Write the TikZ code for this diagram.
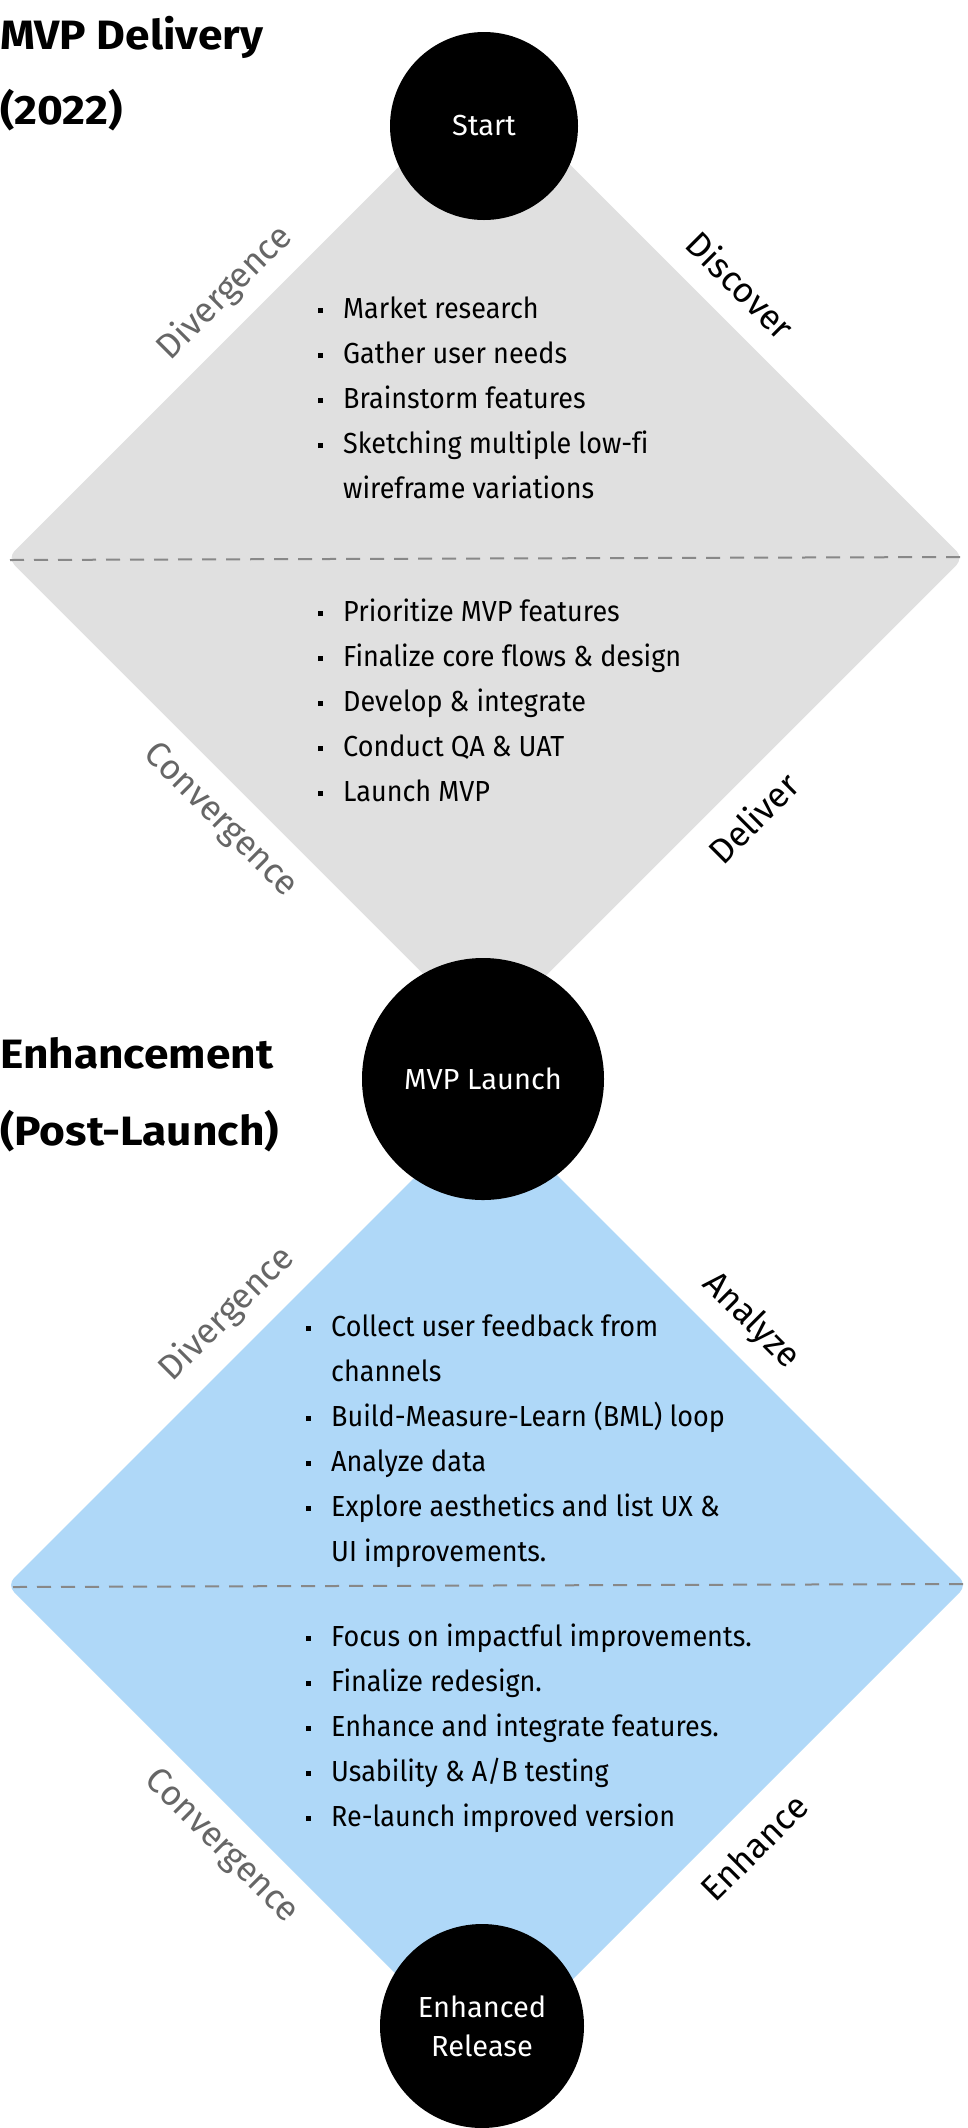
\documentclass[tikz,border=0pt]{standalone}
\usepackage{fontspec}
\setmainfont{Fira Sans}[Ligatures=NoCommon]
\newfontfamily\listfont{Fira Sans}[FakeStretch=0.93, Ligatures=NoCommon]
\newfontfamily\titlefont{Fira Sans Bold}[FakeStretch=1.08]
\definecolor{dgray}{HTML}{E0E0E0}
\definecolor{dblue}{HTML}{AFD8F8}
\definecolor{lgray}{HTML}{666666}
\definecolor{dashgray}{HTML}{888888}
\newcommand\bul{\rule[5bp]{4.5bp}{5bp}}
\tikzset{
  title/.style={anchor=base west, inner sep=0pt, font=\titlefont\fontsize{41bp}{75bp}\selectfont},
  milestone/.style={circle, fill=black, inner sep=0pt, text=white, align=center, font=\fontsize{29bp}{39bp}\selectfont},
  listtext/.style={anchor=base west, inner sep=0pt, font=\listfont\fontsize{29bp}{45bp}\selectfont},
  sidegray/.style={text=lgray, inner sep=0pt, font=\fontsize{35bp}{40bp}\selectfont},
  sideblack/.style={text=black, inner sep=0pt, font=\fontsize{35bp}{40bp}\selectfont},
  divider/.style={draw=dashgray, line width=2bp, dash pattern=on 14bp off 10bp}
}
\begin{document}
\begin{tikzpicture}[x=1bp, y=-1bp]
\useasboundingbox[fill=white] (0,0) rectangle (968,2128);
% diamonds
\fill[dgray, rounded corners=10bp] (485.5,80) -- (963.5,558) -- (485.5,1036) -- (7.5,558) -- cycle;
\fill[dblue, rounded corners=10bp] (487,1105) -- (967,1585) -- (487,2065) -- (7,1585) -- cycle;
% dividers
\coordinate (d1l) at (10,560);
\coordinate (d1r) at (960,557);
\coordinate (d2l) at (13,1587);
\coordinate (d2r) at (963,1584);
\draw[divider] (d1l) -- (d1r);
\draw[divider] (d2l) -- (d2r);
% milestones
\node[milestone, minimum size=188bp] (start) at (484,126) {Start};
\node[milestone, minimum size=242bp] (mvp) at (483,1079) {MVP Launch};
\node[milestone, minimum size=204bp] (rel) at (482,2026) {Enhanced\\Release};
% titles
\node[title] (t1a) at (0,49) {MVP Delivery};
\node[title] (t1b) at (0,124) {(2022)};
\node[title] (t2a) at (0,1068) {Enhancement};
\node[title] (t2b) at (0,1145) {(Post-Launch)};
% side labels
\node[sidegray, rotate=45] (dv1) at (225,293) {Divergence};
\node[sideblack, rotate=-45] (ds1) at (741,285) {Discover};
\node[sidegray, rotate=-45] (cv1) at (220,821) {Convergence};
\node[sideblack, rotate=45] (dl1) at (753,818) {Deliver};
\node[sidegray, rotate=45] (dv2) at (227,1314) {Divergence};
\node[sideblack, rotate=-45] (an2) at (751,1321) {Analyze};
\node[sidegray, rotate=-45] (cv2) at (221,1847) {Convergence};
\node[sideblack, rotate=45] (en2) at (754,1847) {Enhance};
% lists
\node[listtext] (l1) at (318,318) {\begin{tabular}[t]{@{}l@{\hspace{20.5bp}}l@{}}
\bul & Market research\\
\bul & Gather user needs\\
\bul & Brainstorm features\\
\bul & Sketching multiple low-fi\\
 & wireframe variations
\end{tabular}};
\node[listtext] (l2) at (318,621) {\begin{tabular}[t]{@{}l@{\hspace{20.5bp}}l@{}}
\bul & Prioritize MVP features\\
\bul & Finalize core flows \& design\\
\bul & Develop \& integrate\\
\bul & Conduct QA \& UAT\\
\bul & Launch MVP
\end{tabular}};
\node[listtext] (l3) at (306,1336) {\begin{tabular}[t]{@{}l@{\hspace{20.5bp}}l@{}}
\bul & Collect user feedback from\\
 & channels\\
\bul & Build-Measure-Learn (BML) loop\\
\bul & Analyze data\\
\bul & Explore aesthetics and list UX \&\\
 & UI improvements.
\end{tabular}};
\node[listtext] (l4) at (306,1646) {\begin{tabular}[t]{@{}l@{\hspace{20.5bp}}l@{}}
\bul & Focus on impactful improvements.\\
\bul & Finalize redesign.\\
\bul & Enhance and integrate features.\\
\bul & Usability \& A/B testing\\
\bul & Re-launch improved version
\end{tabular}};
\end{tikzpicture}
\end{document}
